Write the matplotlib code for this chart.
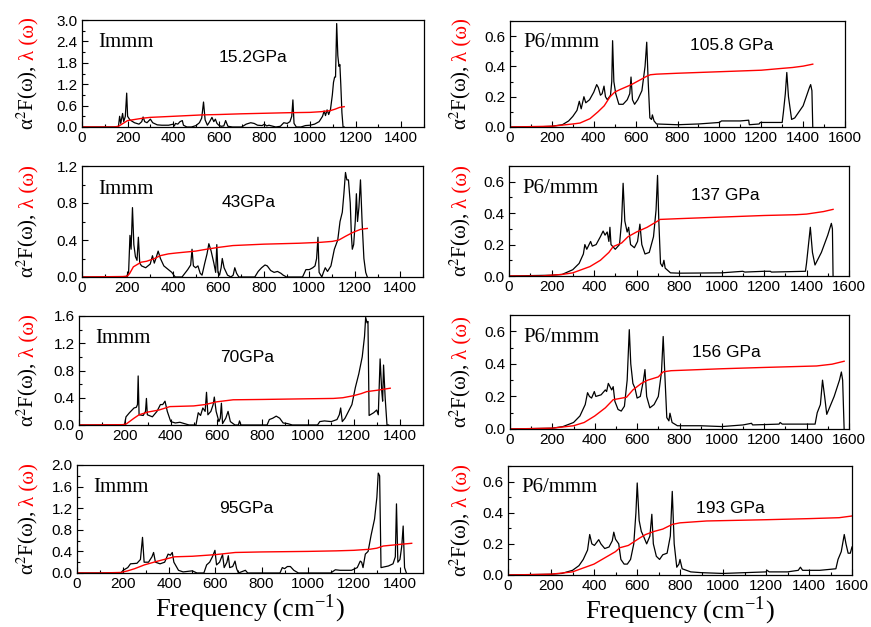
import matplotlib
matplotlib.use("Agg")
import matplotlib.pyplot as plt
from matplotlib.ticker import MultipleLocator

plt.rcParams["mathtext.fontset"] = "stix"
plt.rcParams["font.family"] = ["Liberation Sans", "DejaVu Sans"]

SERIF = ["Liberation Serif", "DejaVu Serif"]

# ---------------- Immm, 15.2 GPa ----------------
f_15 = [0, 150, 160, 165, 170, 178, 183, 190, 196, 200, 210, 230, 250, 262, 268, 275, 285, 300, 310,
        330, 350, 380, 400, 405, 410, 420, 430, 440, 445, 460, 480, 500, 515, 525, 533, 540, 550, 560,
        570, 578, 585, 592, 600, 610, 622, 630, 640, 660, 700, 720, 740, 755, 770, 790, 800, 810, 820,
        850, 870, 885, 900, 912, 920, 925, 930, 940, 960, 980, 1000, 1020, 1040, 1055, 1062, 1068,
        1075, 1082, 1090, 1098, 1103, 1108, 1112, 1117, 1122, 1127, 1131, 1135, 1140, 1145, 1150]
a2f_15 = [0, 0, 0.02, 0.3, 0.1, 0.38, 0.15, 0.3, 0.95, 0.3, 0.2, 0.12, 0.08, 0.15, 0.28, 0.15, 0.12,
          0.22, 0.12, 0.06, 0.05, 0.05, 0.08, 0.03, 0.1, 0.08, 0.15, 0.18, 0.05, 0.0, 0.0, 0.04, 0.12,
          0.25, 0.7, 0.2, 0.05, 0.15, 0.27, 0.15, 0.22, 0.1, 0.05, 0.02, 0.03, 0.18, 0.02, 0.0, 0.0,
          0.08, 0.12, 0.1, 0.05, 0.04, 0.08, 0.03, 0.05, 0.0, 0.02, 0.12, 0.1, 0.15, 0.3, 0.76, 0.1,
          0.0, 0.0, 0.04, 0.05, 0.08, 0.15, 0.3, 0.45, 0.32, 0.48, 0.35, 0.5, 0.9, 1.25, 1.4, 1.4, 2.9,
          2.0, 1.7, 1.75, 1.2, 0.4, 0.0, 0.0]
lf_15 = [0, 140, 160, 180, 200, 230, 270, 300, 400, 530, 600, 700, 900, 1000, 1050, 1090, 1110, 1130, 1150]
lam_15 = [0, 0.0, 0.02, 0.1, 0.18, 0.21, 0.25, 0.27, 0.30, 0.34, 0.35, 0.37, 0.40, 0.41, 0.43, 0.46,
          0.50, 0.55, 0.57]

# ---------------- Immm, 43 GPa ----------------
f_43 = [0, 195, 205, 211, 216, 222, 228, 235, 242, 248, 254, 262, 280, 300, 310, 318, 325, 335, 345,
        360, 380, 395, 410, 440, 465, 478, 484, 490, 500, 510, 520, 528, 540, 550, 558, 568, 580, 588,
        593, 598, 605, 612, 617, 625, 640, 655, 665, 672, 680, 690, 760, 775, 790, 805, 815, 830, 845,
        860, 875, 885, 900, 970, 985, 1000, 1015, 1025, 1032, 1038, 1043, 1055, 1062, 1070, 1080, 1095,
        1110, 1125, 1135, 1145, 1152, 1159, 1165, 1172, 1180, 1185, 1189, 1195, 1202, 1207, 1212, 1218,
        1225, 1232, 1240, 1248, 1255]
a2f_43 = [0, 0, 0.05, 0.45, 0.3, 0.75, 0.35, 0.22, 0.18, 0.43, 0.15, 0.12, 0.1, 0.14, 0.23, 0.15, 0.2,
          0.28, 0.2, 0.12, 0.08, 0.05, 0.0, 0.0, 0.08, 0.13, 0.3, 0.12, 0.1, 0.12, 0.04, 0.02, 0.15,
          0.25, 0.36, 0.28, 0.15, 0.05, 0.35, 0.05, 0.02, 0.1, 0.2, 0.1, 0.02, 0.0, 0.02, 0.1, 0.04,
          0.0, 0.0, 0.06, 0.1, 0.13, 0.12, 0.07, 0.05, 0.06, 0.04, 0.02, 0.0, 0.0, 0.08, 0.08, 0.1,
          0.12, 0.2, 0.43, 0.05, 0.0, 0.05, 0.1, 0.06, 0.12, 0.3, 0.4, 0.6, 0.7, 0.9, 1.13, 1.05, 1.05,
          0.8, 0.45, 0.3, 0.35, 0.6, 0.9, 0.6, 0.75, 1.05, 0.6, 0.2, 0.05, 0.0]
lf_43 = [0, 180, 200, 210, 226, 260, 284, 320, 343, 380, 416, 500, 547, 600, 664, 800, 955, 1050, 1101,
         1130, 1159, 1190, 1225, 1255]
lam_43 = [0, 0.005, 0.01, 0.04, 0.11, 0.16, 0.17, 0.2, 0.23, 0.25, 0.26, 0.28, 0.30, 0.32, 0.34, 0.355,
          0.365, 0.375, 0.385, 0.40, 0.44, 0.48, 0.515, 0.525]

# ---------------- Immm, 70 GPa ----------------
f_70 = [0, 198, 205, 220, 240, 250, 255, 258, 262, 280, 290, 294, 298, 320, 340, 355, 365, 375, 385,
        400, 420, 440, 460, 480, 510, 520, 530, 540, 550, 556, 562, 575, 585, 590, 598, 610, 616, 621,
        626, 640, 650, 660, 680, 695, 700, 706, 820, 830, 845, 860, 875, 890, 910, 930, 1040, 1050,
        1070, 1100, 1125, 1135, 1141, 1148, 1160, 1175, 1190, 1205, 1220, 1235, 1245, 1250, 1256, 1260,
        1265, 1285, 1298, 1305, 1313, 1320, 1324, 1328, 1335, 1343, 1350]
a2f_70 = [0, 0, 0.12, 0.18, 0.25, 0.26, 0.3, 0.72, 0.15, 0.14, 0.2, 0.39, 0.15, 0.12, 0.2, 0.3, 0.3,
          0.35, 0.2, 0.05, 0.03, 0.04, 0.02, 0.0, 0.0, 0.18, 0.14, 0.25, 0.2, 0.48, 0.15, 0.2, 0.3,
          0.41, 0.2, 0.05, 0.1, 0.32, 0.02, 0.1, 0.2, 0.05, 0.0, 0.0, 0.06, 0.0, 0.0, 0.08, 0.1, 0.13,
          0.1, 0.03, 0.02, 0.0, 0.0, 0.05, 0.06, 0.05, 0.08, 0.15, 0.25, 0.05, 0.1, 0.2, 0.3, 0.55,
          0.75, 1.0, 1.3, 1.58, 1.5, 1.52, 0.14, 0.18, 0.22, 0.15, 0.97, 0.5, 0.35, 0.88, 0.4, 0.0, 0.0]
lf_70 = [0, 190, 206, 240, 262, 300, 349, 396, 500, 550, 600, 672, 800, 1000, 1109, 1150, 1197, 1230,
         1255, 1300, 1357]
lam_70 = [0, 0.005, 0.015, 0.1, 0.15, 0.19, 0.22, 0.27, 0.28, 0.3, 0.34, 0.37, 0.375, 0.385, 0.39, 0.40,
          0.43, 0.46, 0.49, 0.51, 0.54]

# ---------------- Immm, 95 GPa ----------------
f_95 = [0, 190, 200, 220, 232, 260, 275, 284, 291, 310, 325, 332, 340, 360, 380, 395, 405, 413, 420,
        440, 460, 500, 520, 550, 562, 575, 587, 598, 605, 618, 631, 638, 650, 656, 662, 675, 685, 692,
        700, 730, 740, 880, 890, 900, 912, 925, 940, 960, 1100, 1120, 1140, 1190, 1215, 1228, 1234,
        1240, 1250, 1262, 1275, 1290, 1300, 1306, 1312, 1318, 1350, 1370, 1380, 1385, 1391, 1400, 1408,
        1414, 1420, 1428]
a2f_95 = [0, 0, 0.05, 0.1, 0.17, 0.18, 0.25, 0.66, 0.2, 0.2, 0.3, 0.38, 0.2, 0.17, 0.2, 0.35, 0.33,
          0.38, 0.2, 0.05, 0.02, 0.04, 0.0, 0.0, 0.15, 0.2, 0.3, 0.42, 0.15, 0.2, 0.34, 0.1, 0.2, 0.32,
          0.1, 0.12, 0.22, 0.08, 0.0, 0.05, 0.0, 0.0, 0.1, 0.08, 0.12, 0.12, 0.05, 0.0, 0.0, 0.06, 0.05,
          0.05, 0.1, 0.22, 0.2, 0.1, 0.35, 0.4, 0.7, 1.0, 1.4, 1.85, 1.8, 0.1, 0.13, 0.17, 0.3, 1.28,
          0.2, 0.25, 0.5, 0.87, 0.1, 0.0]
lf_95 = [0, 100, 190, 220, 250, 292, 350, 423, 500, 600, 686, 800, 1000, 1123, 1200, 1270, 1300, 1328,
         1400, 1451]
lam_95 = [0, 0.0, 0.01, 0.04, 0.08, 0.15, 0.22, 0.3, 0.31, 0.34, 0.38, 0.39, 0.40, 0.41, 0.42, 0.44,
          0.46, 0.5, 0.53, 0.55]

# ---------------- P6/mmm, 105.8 GPa ----------------
f_105 = [0, 150, 200, 250, 280, 300, 320, 331, 340, 353, 362, 380, 400, 414, 422, 432, 440, 449, 456,
         465, 480, 486, 490, 496, 505, 520, 540, 560, 572, 578, 585, 595, 610, 630, 645, 653, 660, 668,
         676, 680, 688, 700, 800, 900, 1000, 1010, 1100, 1140, 1143, 1190, 1195, 1300, 1306, 1315, 1322,
         1330, 1345, 1360, 1400, 1430, 1436, 1442, 1446]
a2f_105 = [0, 0.002, 0.005, 0.015, 0.04, 0.07, 0.11, 0.17, 0.12, 0.2, 0.16, 0.18, 0.23, 0.28, 0.26,
           0.21, 0.22, 0.27, 0.2, 0.18, 0.21, 0.3, 0.57, 0.3, 0.22, 0.15, 0.15, 0.18, 0.22, 0.33, 0.18,
           0.15, 0.18, 0.24, 0.4, 0.56, 0.3, 0.06, 0.05, 0.08, 0.04, 0.02, 0.015, 0.02, 0.03, 0.04,
           0.04, 0.045, 0.015, 0.02, 0.03, 0.03, 0.1, 0.22, 0.36, 0.2, 0.05, 0.06, 0.14, 0.26, 0.28,
           0.24, 0.0]
lf_105 = [0, 200, 300, 334, 382, 420, 450, 478, 500, 525, 580, 620, 653, 670, 700, 800, 1000, 1200,
          1290, 1350, 1400, 1446]
lam_105 = [0, 0.005, 0.02, 0.026, 0.055, 0.1, 0.14, 0.2, 0.23, 0.247, 0.28, 0.31, 0.335, 0.345, 0.349,
           0.355, 0.365, 0.375, 0.386, 0.393, 0.402, 0.415]

# ---------------- P6/mmm, 137 GPa ----------------
f_137 = [0, 200, 250, 300, 330, 350, 357, 366, 384, 392, 410, 430, 443, 452, 462, 470, 475, 480, 500,
         520, 530, 537, 545, 556, 563, 572, 590, 605, 616, 625, 640, 660, 680, 692, 699, 705, 713, 722,
         729, 735, 760, 800, 1000, 1100, 1110, 1200, 1230, 1235, 1395, 1400, 1418, 1428, 1440, 1470,
         1500, 1517, 1522, 1525]
a2f_137 = [0, 0.005, 0.01, 0.04, 0.08, 0.14, 0.2, 0.17, 0.22, 0.19, 0.2, 0.25, 0.286, 0.26, 0.28,
           0.22, 0.31, 0.2, 0.17, 0.2, 0.35, 0.59, 0.35, 0.28, 0.31, 0.2, 0.18, 0.22, 0.33, 0.2, 0.14,
           0.15, 0.25, 0.42, 0.64, 0.35, 0.08, 0.06, 0.1, 0.05, 0.02, 0.018, 0.02, 0.03, 0.025, 0.03,
           0.03, 0.025, 0.03, 0.08, 0.31, 0.15, 0.07, 0.15, 0.26, 0.335, 0.3, 0.0]
lf_137 = [0, 150, 250, 300, 381, 430, 470, 490, 530, 560, 600, 650, 700, 710, 800, 1000, 1200, 1350,
          1400, 1480, 1525]
lam_137 = [0, 0.0, 0.01, 0.02, 0.06, 0.1, 0.15, 0.187, 0.21, 0.25, 0.28, 0.31, 0.35, 0.36, 0.365, 0.375,
           0.385, 0.39, 0.394, 0.41, 0.424]

# ---------------- P6/mmm, 156 GPa ----------------
f_156 = [0, 200, 250, 300, 330, 355, 366, 375, 385, 398, 405, 430, 450, 456, 464, 472, 480, 487, 495,
         510, 525, 540, 553, 563, 570, 580, 590, 600, 615, 630, 637, 645, 660, 680, 700, 715, 723, 732,
         740, 750, 755, 765, 790, 900, 1000, 1100, 1140, 1145, 1270, 1275, 1285, 1440, 1450, 1465, 1475,
         1485, 1495, 1530, 1555, 1564, 1570, 1577]
a2f_156 = [0, 0.005, 0.015, 0.04, 0.08, 0.15, 0.223, 0.2, 0.19, 0.23, 0.2, 0.21, 0.24, 0.23, 0.28,
           0.26, 0.24, 0.26, 0.17, 0.12, 0.11, 0.14, 0.3, 0.61, 0.4, 0.28, 0.25, 0.19, 0.2, 0.3, 0.365,
           0.2, 0.13, 0.15, 0.2, 0.35, 0.568, 0.3, 0.07, 0.05, 0.097, 0.04, 0.02, 0.02, 0.015, 0.025,
           0.035, 0.025, 0.03, 0.04, 0.03, 0.03, 0.1, 0.15, 0.3, 0.2, 0.09, 0.2, 0.3, 0.35, 0.3, 0.0]
lf_156 = [0, 200, 300, 350, 400, 450, 487, 550, 580, 620, 650, 700, 723, 760, 1000, 1200, 1447, 1520, 1577]
lam_156 = [0, 0.005, 0.02, 0.04, 0.08, 0.13, 0.18, 0.195, 0.24, 0.28, 0.3, 0.32, 0.351, 0.358, 0.37,
           0.378, 0.387, 0.398, 0.416]

# ---------------- P6/mmm, 193 GPa ----------------
f_193 = [0, 200, 250, 300, 330, 350, 370, 380, 390, 402, 422, 432, 450, 470, 485, 492, 500, 515, 525,
         540, 555, 570, 585, 595, 601, 610, 620, 630, 645, 660, 669, 676, 690, 705, 720, 740, 755, 764,
         773, 785, 795, 800, 810, 850, 900, 1000, 1100, 1200, 1205, 1215, 1300, 1350, 1360, 1370, 1450,
         1525, 1535, 1550, 1564, 1572, 1582, 1592, 1600]
a2f_193 = [0, 0.005, 0.01, 0.03, 0.06, 0.1, 0.16, 0.26, 0.2, 0.19, 0.227, 0.2, 0.17, 0.18, 0.22, 0.275,
           0.23, 0.2, 0.1, 0.07, 0.07, 0.1, 0.2, 0.4, 0.591, 0.35, 0.28, 0.25, 0.2, 0.25, 0.39, 0.2,
           0.12, 0.1, 0.13, 0.14, 0.25, 0.537, 0.2, 0.05, 0.07, 0.1, 0.04, 0.02, 0.015, 0.01, 0.015,
           0.02, 0.03, 0.02, 0.02, 0.03, 0.05, 0.03, 0.03, 0.04, 0.1, 0.15, 0.26, 0.2, 0.14, 0.14, 0.18]
lf_193 = [0, 200, 300, 400, 450, 500, 520, 560, 613, 640, 680, 720, 764, 800, 924, 1200, 1400, 1540, 1600]
lam_193 = [0, 0.005, 0.02, 0.07, 0.11, 0.15, 0.175, 0.19, 0.238, 0.26, 0.28, 0.295, 0.325, 0.335, 0.347,
           0.355, 0.362, 0.368, 0.379]

phase_left = "Immm"
phase_right = "P6/mmm"
pressures_left = ["15.2GPa", "43GPa", "70GPa", "95GPa"]
pressures_right = ["105.8 GPa", "137 GPa", "156 GPa", "193 GPa"]

left_data = [(f_15, a2f_15, lf_15, lam_15), (f_43, a2f_43, lf_43, lam_43),
             (f_70, a2f_70, lf_70, lam_70), (f_95, a2f_95, lf_95, lam_95)]
right_data = [(f_105, a2f_105, lf_105, lam_105), (f_137, a2f_137, lf_137, lam_137),
              (f_156, a2f_156, lf_156, lam_156), (f_193, a2f_193, lf_193, lam_193)]

left_ymax = [3.0, 1.2, 1.6, 2.0]
left_ystep = [0.6, 0.4, 0.4, 0.4]

W, H = 871, 627
fig = plt.figure(figsize=(W / 100, H / 100), dpi=100)


def add_axes_px(l, r, t, b):
    return fig.add_axes([l / W, 1 - b / H, (r - l) / W, (b - t) / H])


left_boxes = [(82, 424, 20, 127), (82, 423, 166, 277), (79, 423, 316, 425), (77, 423, 465, 573)]
right_boxes = [(510, 845, 21, 127), (509, 849, 166, 276), (510, 849, 315, 429), (508, 852, 466, 575)]

left_label_pos = [(0.50, 0.645), (0.49, 0.667), (0.49, 0.62), (0.488, 0.60)]
right_label_pos = [(0.661, 0.77), (0.637, 0.73), (0.639, 0.667), (0.647, 0.606)]


def style_axes(ax, xmax, xstep, ymax, ystep):
    ax.set_xlim(0, xmax)
    ax.set_ylim(0, ymax)
    ax.xaxis.set_major_locator(MultipleLocator(xstep))
    ax.xaxis.set_minor_locator(MultipleLocator(xstep / 2))
    ax.yaxis.set_major_locator(MultipleLocator(ystep))
    ax.yaxis.set_minor_locator(MultipleLocator(ystep / 2))
    ax.tick_params(which="both", direction="in", top=False, right=False, labelsize=11, pad=3)
    ax.tick_params(which="major", length=4, width=0.8)
    ax.tick_params(which="minor", length=2.5, width=0.8)
    ax.yaxis.set_major_formatter(matplotlib.ticker.FormatStrFormatter("%.1f"))
    for s in ax.spines.values():
        s.set_linewidth(0.9)


axes_all = []
for i in range(4):
    ax = add_axes_px(*left_boxes[i])
    f, a, lf, lm = left_data[i]
    ax.plot(f, a, color="black", lw=0.9)
    ax.plot(lf, lm, color="red", lw=1.0)
    style_axes(ax, 1500, 200, left_ymax[i], left_ystep[i])
    ax.text(0.047, 0.79, phase_left, transform=ax.transAxes, family=SERIF, fontsize=15,
            ha="left", va="center")
    ax.text(*left_label_pos[i], pressures_left[i], transform=ax.transAxes, fontsize=12.5,
            ha="center", va="center")
    axes_all.append((ax, 33))

for i in range(4):
    ax = add_axes_px(*right_boxes[i])
    f, a, lf, lm = right_data[i]
    ax.plot(f, a, color="black", lw=0.9)
    ax.plot(lf, lm, color="red", lw=1.0)
    style_axes(ax, 1600, 200, 0.7, 0.2)
    ax.text(0.04, 0.80, phase_right, transform=ax.transAxes, family=SERIF, fontsize=15,
            ha="left", va="center")
    ax.text(*right_label_pos[i], pressures_right[i], transform=ax.transAxes, fontsize=12.5,
            ha="center", va="center")
    axes_all.append((ax, 466))

for ax in (axes_all[3][0], axes_all[7][0]):
    ax.set_xlabel("Frequency (cm$^{\\mathregular{-1}}$)", family=SERIF, fontsize=19, labelpad=1)

# two-colour y labels: black part then red part, reading upward
fig.canvas.draw()
renderer = fig.canvas.get_renderer()
gap = 5 / H
for ax, xb in axes_all:
    pos = ax.get_position()
    yc = (pos.y0 + pos.y1) / 2
    kw = dict(rotation=90, rotation_mode="anchor", ha="left", va="baseline",
              family=SERIF, fontsize=15)
    t1 = fig.text(xb / W, yc, "α$^{2}$F(ω),", color="black", **kw)
    t2 = fig.text(xb / W, yc, "λ (ω)", color="red", **kw)
    h1 = t1.get_window_extent(renderer).height / H
    h2 = t2.get_window_extent(renderer).height / H
    y0 = yc - (h1 + gap + h2) / 2
    t1.set_position((xb / W, y0))
    t2.set_position((xb / W, y0 + h1 + gap))

fig.savefig("out.png", dpi=100)
